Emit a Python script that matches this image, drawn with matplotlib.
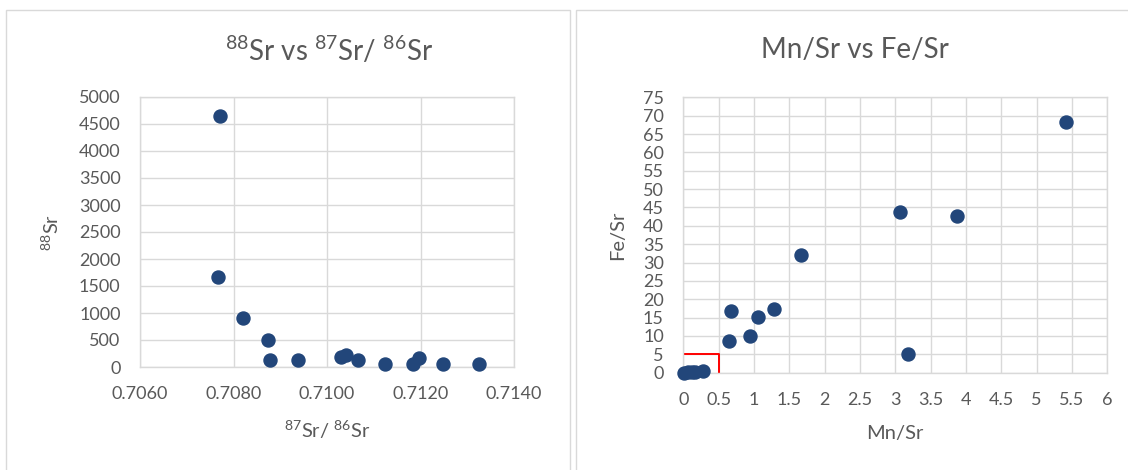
import matplotlib.pyplot as plt
from matplotlib.patches import Rectangle

plt.rcParams['font.family'] = ['Lato', 'DejaVu Sans']
plt.rcParams['mathtext.fontset'] = 'custom'
plt.rcParams['mathtext.rm'] = 'Lato'
plt.rcParams['mathtext.default'] = 'regular'

# 87Sr/86Sr against 88Sr
sr_ratio = [0.70771, 0.70766, 0.70821, 0.70873, 0.70879, 0.70939, 0.71031,
            0.71041, 0.71067, 0.71124, 0.71184, 0.71197, 0.71249, 0.71325]
sr88 = [4640, 1670, 910, 495, 136, 136, 186,
        229, 136, 62, 62, 173, 62, 62]

# Mn/Sr against Fe/Sr
mn_sr = [0.01, 0.06, 0.12, 0.17, 0.28, 0.65, 0.67, 0.95, 1.05, 1.28,
         1.66, 3.06, 3.18, 3.87, 5.42]
fe_sr = [0.05, 0.1, 0.1, 0.1, 0.4, 8.5, 16.8, 10.0, 15.3, 17.3,
         32.1, 43.8, 5.1, 42.8, 68.4]

# diagenetic cut-off box
box_x = [0, 0.5, 0.5]
box_y = [5, 5, 0]

W, H = 1128, 470
dot = '#22467a'
grid = '#d9d9d9'
txt = '#595959'

fig = plt.figure(figsize=(W / 100, H / 100), dpi=100)

# panel frames
fig.add_artist(Rectangle((6 / W, -0.05), 564 / W, 1.05 - 10 / H, transform=fig.transFigure,
                         fill=False, edgecolor=grid, lw=1))
fig.add_artist(Rectangle((576 / W, -0.05), 600 / W, 1.05 - 10 / H, transform=fig.transFigure,
                         fill=False, edgecolor=grid, lw=1))

ax1 = fig.add_axes([140 / W, (H - 367) / H, 374 / W, 270 / H])
ax2 = fig.add_axes([683.3 / W, (H - 372.7) / H, 424 / W, 275.4 / H])


def style(ax):
    ax.grid(True, color=grid, lw=1)
    ax.set_axisbelow(True)
    for s in ax.spines.values():
        s.set_color(grid)
        s.set_linewidth(1)
    ax.tick_params(length=0, pad=14, labelsize=13, colors=txt)


ax1.scatter(sr_ratio, sr88, s=88, color=dot, zorder=3, clip_on=False)
ax1.set_xlim(0.7060, 0.7140)
ax1.set_ylim(0, 5000)
ax1.set_xticks([0.7060, 0.7080, 0.7100, 0.7120, 0.7140])
ax1.set_xticklabels(['%.4f' % v for v in ax1.get_xticks()])
ax1.set_yticks(range(0, 5001, 500))
style(ax1)
ax1.set_xlabel(r'$^{87}$Sr/ $^{86}$Sr', fontsize=14.5, color=txt, labelpad=12)
ax1.set_ylabel(r'$^{88}$Sr', fontsize=14.5, color=txt, labelpad=12)

ax2.plot(box_x, box_y, color='#ff0000', lw=1.4, zorder=2)
ax2.scatter(mn_sr, fe_sr, s=88, color=dot, zorder=3, clip_on=False)
ax2.set_xlim(0, 6)
ax2.set_ylim(0, 75)
ax2.set_xticks([i * 0.5 for i in range(13)])
ax2.set_xticklabels(['%g' % v for v in ax2.get_xticks()])
ax2.set_yticks(range(0, 76, 5))
style(ax2)
ax2.set_xlabel('Mn/Sr', fontsize=14.5, color=txt, labelpad=12)
ax2.set_ylabel('Fe/Sr', fontsize=14.5, color=txt, labelpad=12)

fig.text(329 / W, 1 - 50 / H, r'$^{88}$Sr vs $^{87}$Sr/ $^{86}$Sr', ha='center', va='center',
         fontsize=20, color=txt)
fig.text(855 / W, 1 - 50 / H, 'Mn/Sr vs Fe/Sr', ha='center', va='center',
         fontsize=20, color=txt)

fig.savefig('out.png', dpi=100)
